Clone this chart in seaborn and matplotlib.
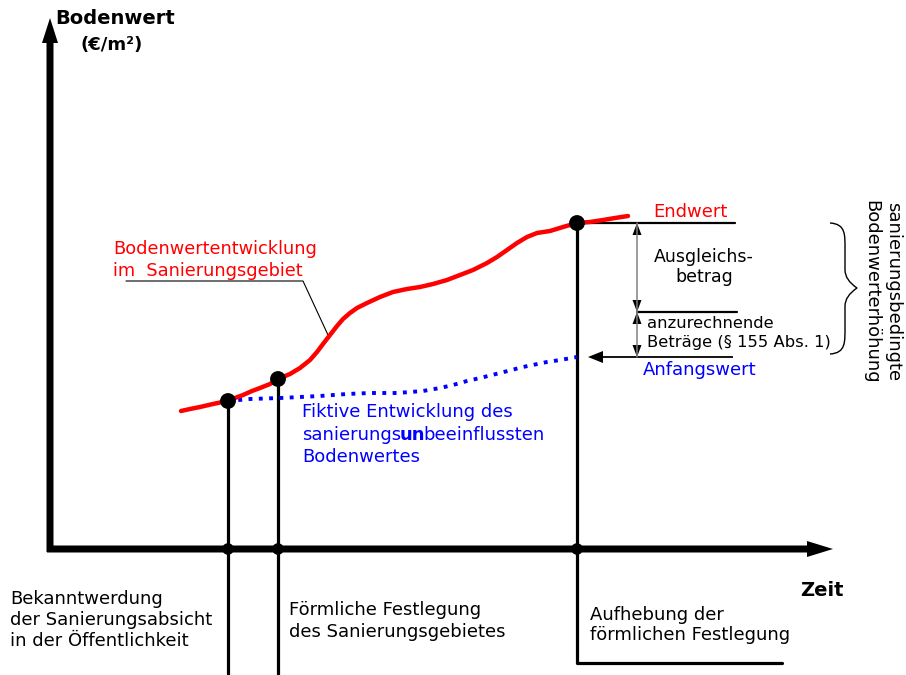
import numpy as np
import matplotlib
matplotlib.use("Agg")
import matplotlib.pyplot as plt
from matplotlib.path import Path
from matplotlib.patches import PathPatch
import seaborn as sns

## data (pixel-like units: time to the right, value downwards on screen)
red_t = [181, 190, 200, 213, 227, 235, 243, 252, 260, 270, 278, 290, 300, 310, 317, 323,
         330, 337, 343, 350, 357, 367, 380, 393, 407, 420, 433, 447, 460, 473, 487, 497,
         507, 517, 527, 537, 550, 563, 577, 590, 603, 615, 628]
red_v = [411, 409, 407, 404, 401, 398, 395, 391, 388, 384, 379, 374, 368, 360, 352, 344,
         335, 326, 319, 313, 308, 303, 297, 292, 289, 287, 284, 280, 275, 270, 263, 257,
         250, 243, 237, 233, 231, 227, 223, 222, 220, 218, 216]
blue_t = [228, 250, 280, 300, 320, 347, 370, 397, 423, 440, 453, 467, 480, 500, 523,
          547, 560, 577]
blue_v = [401, 399, 398, 397, 396, 394, 393, 393, 391, 388, 385, 381, 378, 373, 367,
          362, 360, 357]
event_t = [228, 278, 577]   # Bekanntwerdung, Festlegung, Aufhebung
event_v = [401, 379, 223]
end_value = 223
mid_value = 312
start_value = 357
axis_y = 549
axis_x = 50

sns.set_theme(style="white")
plt.rcParams['font.family'] = ['DejaVu Sans']
plt.rcParams['text.color'] = 'black'

fig = plt.figure(figsize=(9.06, 6.75), dpi=100)
ax = fig.add_axes([0, 0, 1, 1])
ax.set_xlim(0, 906)
ax.set_ylim(675, 0)
ax.axis('off')

## axes with big arrows
ax.arrow(axis_x, axis_y + 3, 0, -(axis_y + 3 - 18), width=7, head_width=16, head_length=25,
         length_includes_head=True, fc='black', ec='black', lw=0, zorder=3)
ax.arrow(axis_x - 3, axis_y, 833 - axis_x + 3, 0, width=7, head_width=16, head_length=26,
         length_includes_head=True, fc='black', ec='black', lw=0, zorder=3)

## vertical event lines
ax.plot([event_t[0], event_t[0]], [event_v[0], 675], color='black', lw=2.3, zorder=2)
ax.plot([event_t[1], event_t[1]], [event_v[1], 675], color='black', lw=2.3, zorder=2)
ax.plot([event_t[2], event_t[2], 782], [event_v[2], 663, 663], color='black', lw=2.3, zorder=2)

## curves
sns.lineplot(x=blue_t, y=blue_v, ax=ax, color='#0000ff', lw=2.8, linestyle=':', sort=False, zorder=4)
sns.lineplot(x=red_t, y=red_v, ax=ax, color='#ff0000', lw=3.2, sort=False, zorder=5)

## dots
sns.scatterplot(x=event_t, y=event_v, ax=ax, color='black', s=130, edgecolor='none', zorder=6)
sns.scatterplot(x=event_t, y=[axis_y] * 3, ax=ax, color='black', s=70, edgecolor='none', zorder=6)

## right side levels
ax.plot([event_t[2], 735], [end_value, end_value], color='black', lw=1.6)
ax.plot([637, 737], [mid_value, mid_value], color='black', lw=1.6)
ax.arrow(733, start_value, 588 - 733, 0, width=1.8, head_width=12, head_length=15,
         length_includes_head=True, fc='black', ec='black', lw=0)

def double_arrow(x, y0, y1):
    ax.plot([x, x], [y0, y1], color='0.5', lw=1.1)
    ax.arrow(x, y0 + 12, 0, -12, width=0.1, head_width=9, head_length=12,
             length_includes_head=True, fc='black', ec='black', lw=0)
    ax.arrow(x, y1 - 12, 0, 12, width=0.1, head_width=9, head_length=12,
             length_includes_head=True, fc='black', ec='black', lw=0)

double_arrow(637, end_value, mid_value)
double_arrow(637, mid_value, start_value)

## curly brace
verts = [(830, 223), (846, 224), (845, 235), (845, 250),
         (845, 270), (845, 280), (857, 288),
         (845, 296), (845, 306), (845, 326),
         (845, 342), (846, 353), (830, 354)]
codes = [Path.MOVETO, Path.CURVE4, Path.CURVE4, Path.CURVE4,
         Path.LINETO, Path.CURVE3, Path.CURVE3,
         Path.CURVE3, Path.CURVE3, Path.LINETO,
         Path.CURVE4, Path.CURVE4, Path.CURVE4]
ax.add_patch(PathPatch(Path(verts, codes), fc='none', ec='black', lw=1.0))

## leader line
ax.plot([126, 303, 328], [281, 281, 335], color='black', lw=0.8)

## texts
ax.text(55, 18, "Bodenwert", fontsize=14, fontweight='bold', va='center', ha='left')
ax.text(112, 45, "(€/m²)", fontsize=13, fontweight='bold', va='center', ha='center')
ax.text(822, 590, "Zeit", fontsize=14, fontweight='bold', va='center', ha='center')

ax.text(113, 260, "Bodenwertentwicklung\nim  Sanierungsgebiet", color='#ff0000', fontsize=12.8,
        va='center', ha='left', linespacing=1.33)

t1 = ax.text(302, 412, "Fiktive Entwicklung des", color='#0000ff', fontsize=13, va='center', ha='left')
t2 = ax.text(302, 435, "sanierungs", color='#0000ff', fontsize=13, va='center', ha='left')
t3 = ax.annotate("un", xy=(1, 0), xycoords=t2, xytext=(-1.5, 0), textcoords='offset pixels',
                 color='#0000ff', fontsize=13, fontweight='bold', va='bottom', ha='left')
ax.annotate("beeinflussten", xy=(1, 0), xycoords=t3, xytext=(-2, 0), textcoords='offset pixels',
            color='#0000ff', fontsize=13, va='bottom', ha='left')
ax.text(302, 457, "Bodenwertes", color='#0000ff', fontsize=13, va='center', ha='left')

ax.text(690, 212, "Endwert", color='#ff0000', fontsize=13, va='center', ha='center')
ax.text(704, 267, "Ausgleichs-\nbetrag", fontsize=12.5, va='center', ha='center',
        multialignment='center', linespacing=1.18)
ax.text(647, 333, "anzurechnende\nBeträge (§ 155 Abs. 1)", fontsize=11.8, va='center', ha='left',
        linespacing=1.3)
ax.text(700, 370, "Anfangswert", color='#0000ff', fontsize=13, va='center', ha='center')
ax.text(882, 292, "sanierungsbedingte\nBodenwerterhöhung", fontsize=13, rotation=270,
        va='center', ha='center', multialignment='center', linespacing=1.3)

ax.text(10, 620, "Bekanntwerdung\nder Sanierungsabsicht\nin der Öffentlichkeit", fontsize=13,
        va='center', ha='left', linespacing=1.25)
ax.text(289, 621, "Förmliche Festlegung\ndes Sanierungsgebietes", fontsize=13,
        va='center', ha='left', linespacing=1.25)
ax.text(590, 625, "Aufhebung der\nförmlichen Festlegung", fontsize=13,
        va='center', ha='left', linespacing=1.17)

fig.savefig("out.png", dpi=100)
